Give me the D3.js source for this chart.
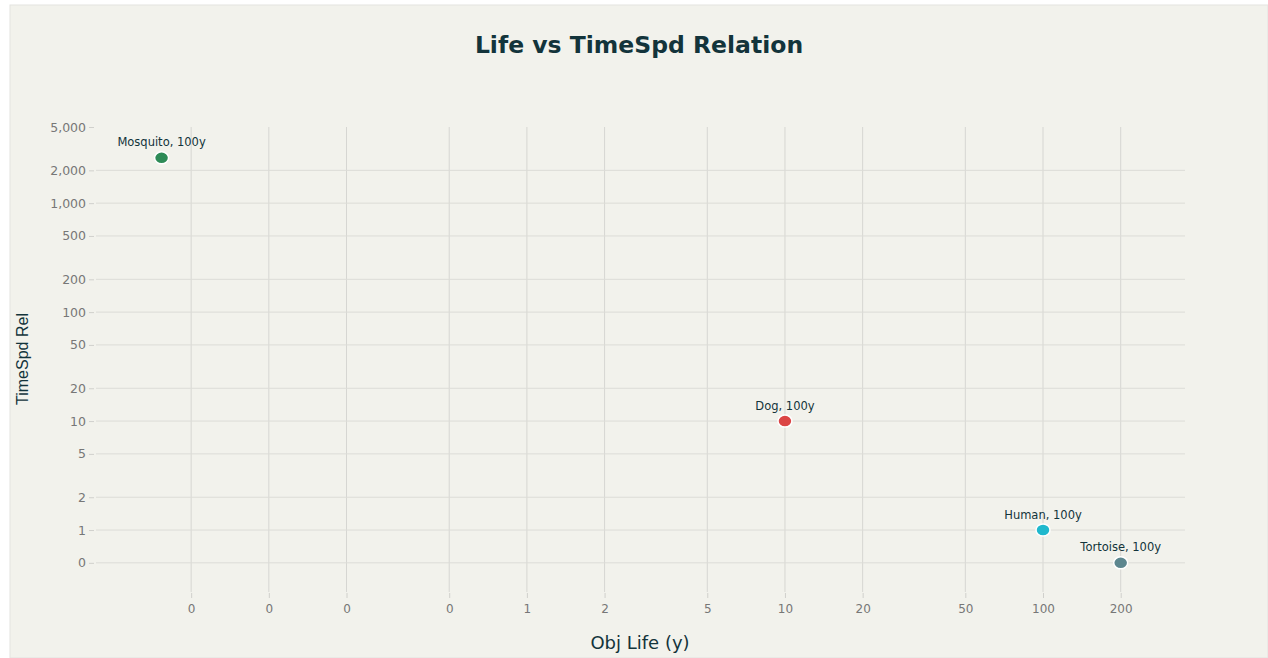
<!DOCTYPE html>
<html>
<head>
<meta charset="utf-8">
<script src="https://cdn.jsdelivr.net/npm/d3@7"></script>
<style>
  html, body { margin: 0; padding: 0; background: #ffffff; }
  svg { display: block; }
</style>
</head>
<body>
<svg id="chart" width="1268" height="658"></svg>
<script>
// ---- data ----
const names = ["Mosquito", "Dog", "Human", "Tortoise"];
const lifeYears = [0.0384, 10, 100, 200];
const timeSpeedRel = [2604, 10, 1, 0.5];
const pointLabels = ["Mosquito, 100y", "Dog, 100y", "Human, 100y", "Tortoise, 100y"];
const colors = ["#2E8B57", "#DB4545", "#1FB8CD", "#5D878F"];

const xTickValues = [0.05, 0.1, 0.2, 0.5, 1, 2, 5, 10, 20, 50, 100, 200];
const xTickLabels = ["0", "0", "0", "0", "1", "2", "5", "10", "20", "50", "100", "200"];
const yTickValues = [5000, 2000, 1000, 500, 200, 100, 50, 20, 10, 5, 2, 1, 0.5];
const yTickLabels = ["5,000", "2,000", "1,000", "500", "200", "100", "50", "20", "10", "5", "2", "1", "0"];

const titleText = "Life vs TimeSpd Relation";
const xTitle = "Obj Life (y)";
const yTitle = "TimeSpd Rel";

// ---- layout ----
const svg = d3.select("#chart");
const W = 1268, H = 658;
const plot = { left: 95, right: 1185, top: 127, bottom: 592 };
const font = "'DejaVu Sans', 'Liberation Sans', Arial, sans-serif";
const fontNarrow = "'Liberation Sans', Arial, sans-serif";

svg.append("rect").attr("x", 10).attr("y", 5).attr("width", W - 10).attr("height", H - 5)
  .attr("fill", "#f2f2ec").attr("stroke", "#e3e3e0").attr("stroke-width", 1);

const x = d3.scaleLog().domain([0.0212, 355]).range([plot.left, plot.right]);
const y = d3.scaleLog().domain([0.27, 5000]).range([plot.bottom, plot.top]);

// gridlines
const grid = svg.append("g");
grid.selectAll("line.vx").data(xTickValues).join("line")
  .attr("x1", d => x(d)).attr("x2", d => x(d))
  .attr("y1", plot.top).attr("y2", plot.bottom)
  .attr("stroke", "#d6d6d2").attr("stroke-width", 1);
grid.selectAll("line.hy").data(yTickValues.filter(d => d !== 5000)).join("line")
  .attr("x1", plot.left + 1).attr("x2", plot.right)
  .attr("y1", d => y(d)).attr("y2", d => y(d))
  .attr("stroke", "#dcdcd7").attr("stroke-width", 1);

// x axis
const xAxis = d3.axisBottom(x).tickValues(xTickValues)
  .tickFormat((d, i) => xTickLabels[i]).tickSize(5).tickPadding(6);
const gx = svg.append("g").attr("transform", `translate(0,${plot.bottom + 1})`).call(xAxis);
gx.select(".domain").remove();
gx.selectAll(".tick line").attr("stroke", "#d0d0cc");
gx.selectAll(".tick text").attr("fill", "#777777").attr("font-family", font).attr("font-size", 12);

// y axis
const yAxis = d3.axisLeft(y).tickValues(yTickValues)
  .tickFormat((d, i) => yTickLabels[i]).tickSize(5).tickPadding(3);
const gy = svg.append("g").attr("transform", `translate(${plot.left - 1},0)`).call(yAxis);
gy.select(".domain").remove();
gy.selectAll(".tick line").attr("stroke", "#d0d0cc");
gy.selectAll(".tick text").attr("fill", "#777777").attr("font-family", font).attr("font-size", 12.5);

// points
const pts = names.map((n, i) => ({ n, life: lifeYears[i], rel: timeSpeedRel[i], label: pointLabels[i], c: colors[i] }));
svg.append("g").selectAll("ellipse").data(pts).join("ellipse")
  .attr("cx", d => x(d.life)).attr("cy", d => y(d.rel)).attr("rx", 7).attr("ry", 6)
  .attr("fill", d => d.c).attr("stroke", "#ffffff").attr("stroke-width", 1.5);
svg.append("g").selectAll("text").data(pts).join("text")
  .attr("x", d => x(d.life)).attr("y", d => y(d.rel) - 11.5)
  .attr("text-anchor", "middle").attr("font-family", font).attr("font-size", 11.5)
  .attr("fill", "#13343b").text(d => d.label);

// titles
svg.append("text").attr("x", 639).attr("y", 53).attr("text-anchor", "middle")
  .attr("font-family", font).attr("font-weight", 700).attr("font-size", 23.5)
  .attr("fill", "#13343b").text(titleText);
svg.append("text").attr("x", 640).attr("y", 649).attr("text-anchor", "middle")
  .attr("font-family", font).attr("font-size", 18).attr("fill", "#13343b").text(xTitle);
svg.append("text").attr("transform", `translate(28,359) rotate(-90)`).attr("text-anchor", "middle")
  .attr("font-family", fontNarrow).attr("font-size", 16).attr("fill", "#13343b").text(yTitle);
</script>
</body>
</html>
